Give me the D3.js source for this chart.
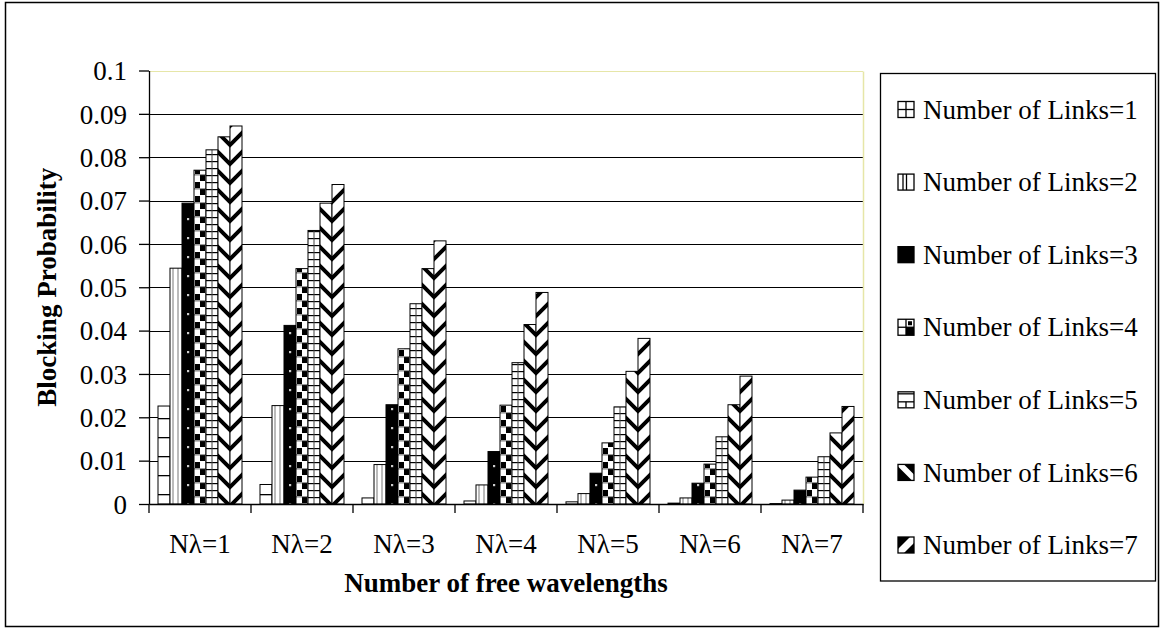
<!DOCTYPE html>
<html>
<head>
<meta charset="utf-8">
<script src="https://cdn.jsdelivr.net/npm/d3@7"></script>
<style>
  html, body { margin: 0; padding: 0; background: #fff; }
  svg { display: block; }
  text { font-family: "Liberation Serif", "Times New Roman", serif; fill: #000; }
</style>
</head>
<body>
<svg id="chart" width="1164" height="628"></svg>
<script>
// Categories along the x axis
const categories = ["Nλ=1", "Nλ=2", "Nλ=3", "Nλ=4", "Nλ=5", "Nλ=6", "Nλ=7"];

// Series names (legend entries)
const seriesNames = [
  "Number of Links=1", "Number of Links=2", "Number of Links=3",
  "Number of Links=4", "Number of Links=5", "Number of Links=6",
  "Number of Links=7"
];

// Blocking probability per series, one value per category
const links1 = [0.0226, 0.0045, 0.0014, 0.0007, 0.0005, 0.0002, 0.0001];
const links2 = [0.0544, 0.0227, 0.0091, 0.0044, 0.0024, 0.0014, 0.0009];
const links3 = [0.0694, 0.0412, 0.0229, 0.0121, 0.0071, 0.0048, 0.0032];
const links4 = [0.0770, 0.0543, 0.0358, 0.0228, 0.0141, 0.0092, 0.0062];
const links5 = [0.0817, 0.0631, 0.0462, 0.0326, 0.0224, 0.0155, 0.0109];
const links6 = [0.0847, 0.0694, 0.0543, 0.0414, 0.0306, 0.0229, 0.0164];
const links7 = [0.0872, 0.0737, 0.0607, 0.0488, 0.0382, 0.0295, 0.0225];

// Y axis ticks and their labels
const yTicks = [0, 0.01, 0.02, 0.03, 0.04, 0.05, 0.06, 0.07, 0.08, 0.09, 0.1];
const yTickLabels = ["0", "0.01", "0.02", "0.03", "0.04", "0.05", "0.06", "0.07", "0.08", "0.09", "0.1"];

const seriesValues = [links1, links2, links3, links4, links5, links6, links7];

const svg = d3.select("#chart");
const defs = svg.append("defs");

// ---- fill patterns, one per series ----
function pattern(id, w, h, yOff) {
  return defs.append("pattern")
    .attr("id", id)
    .attr("patternUnits", "userSpaceOnUse")
    .attr("x", 0).attr("y", yOff || 0)
    .attr("width", w).attr("height", h);
}
// 1: white with horizontal rules
let p = pattern("pat0", 12, 19);
p.append("rect").attr("width", 12).attr("height", 19).attr("fill", "#fff");
p.append("rect").attr("y", 0).attr("width", 12).attr("height", 1.3).attr("fill", "#000");
// 2: white with thin vertical rules
p = pattern("pat1", 12, 10);
p.append("rect").attr("width", 12).attr("height", 10).attr("fill", "#fff");
p.append("rect").attr("x", 2.5).attr("width", 1).attr("height", 10).attr("fill", "#777");
p.append("rect").attr("x", 7.5).attr("width", 1).attr("height", 10).attr("fill", "#777");
// 3: black with small light dots
p = pattern("pat2", 12, 19);
p.append("rect").attr("width", 12).attr("height", 19).attr("fill", "#000");
p.append("rect").attr("x", 5).attr("y", 9).attr("width", 2.2).attr("height", 2.2).attr("fill", "#ccc");
// 4: checker blocks
p = pattern("pat3", 12, 14);
p.append("rect").attr("width", 12).attr("height", 14).attr("fill", "#fff");
p.append("rect").attr("x", 1).attr("y", 0).attr("width", 5).attr("height", 6).attr("fill", "#000");
p.append("rect").attr("x", 6).attr("y", 7).attr("width", 5).attr("height", 6).attr("fill", "#000");
p.append("rect").attr("x", 0).attr("y", 6.5).attr("width", 12).attr("height", 0.8).attr("fill", "#333");
// 5: small brick grid
p = pattern("pat4", 12, 7);
p.append("rect").attr("width", 12).attr("height", 7).attr("fill", "#fff");
p.append("rect").attr("y", 0).attr("width", 12).attr("height", 1.2).attr("fill", "#000");
p.append("rect").attr("x", 5.5).attr("width", 1).attr("height", 7).attr("fill", "#444");
// 6: thick "\" diagonal stripes
p = pattern("pat5", 19, 19);
p.append("rect").attr("width", 19).attr("height", 19).attr("fill", "#fff");
p.append("path").attr("d", "M-5,-5L24,24M-5,14L5,24M14,-5L24,5")
  .attr("stroke", "#000").attr("stroke-width", 4).attr("fill", "none");
// 7: thick "/" diagonal stripes, phased so neighbouring bars form chevrons
p = pattern("pat6", 19, 19, 12);
p.append("rect").attr("width", 19).attr("height", 19).attr("fill", "#fff");
p.append("path").attr("d", "M-5,24L24,-5M-5,5L5,-5M14,24L24,14")
  .attr("stroke", "#000").attr("stroke-width", 4).attr("fill", "none");

// ---- scales ----
const plotLeft = 149, plotRight = 863, plotTop = 70.5, plotBottom = 504;
const x0 = d3.scaleBand().domain(categories).range([plotLeft, plotRight]).padding(0);
const x1 = d3.scaleBand().domain(seriesNames).range([0, x0.bandwidth()])
  .paddingInner(0).paddingOuter(0.75);
const y = d3.scaleLinear().domain([0, 0.1]).range([plotBottom, plotTop]);

// outer frame
svg.append("rect")
  .attr("x", 5.5).attr("y", 2.5).attr("width", 1153).attr("height", 624)
  .attr("fill", "#fff").attr("stroke", "#000").attr("stroke-width", 1.5);

// gridlines
svg.append("g").selectAll("line")
  .data(yTicks.filter(d => d > 0))
  .join("line")
  .attr("x1", plotLeft).attr("x2", plotRight)
  .attr("y1", d => Math.round(y(d)) + 0.5).attr("y2", d => Math.round(y(d)) + 0.5)
  .attr("stroke", d => d >= 0.1 ? "#e6e6a8" : "#000")
  .attr("stroke-width", 1);
// right edge of plot area
svg.append("line")
  .attr("x1", plotRight + 0.5).attr("x2", plotRight + 0.5)
  .attr("y1", Math.round(y(0.1)) + 0.5).attr("y2", plotBottom)
  .attr("stroke", "#e6e6a8").attr("stroke-width", 1.5);

// bars
const groups = svg.append("g").selectAll("g")
  .data(categories)
  .join("g")
  .attr("transform", d => `translate(${x0(d)},0)`);

groups.selectAll("rect")
  .data((c, ci) => seriesNames.map((s, si) => ({ s, si, v: seriesValues[si][ci] })))
  .join("rect")
  .attr("transform", d => `translate(${x1(d.s)},0)`)
  .attr("x", 0)
  .attr("y", d => y(d.v))
  .attr("width", x1.bandwidth())
  .attr("height", d => y(0) - y(d.v))
  .attr("fill", d => `url(#pat${d.si})`)
  .attr("stroke", "#000")
  .attr("stroke-width", 1);

// y axis
const yAxis = svg.append("g")
  .attr("transform", `translate(${plotLeft},0)`)
  .call(d3.axisLeft(y).tickValues(yTicks)
    .tickFormat((d, i) => yTickLabels[i])
    .tickSize(10).tickSizeOuter(0).tickPadding(12));
yAxis.select(".domain").attr("stroke", "#000").attr("stroke-width", 1.3);
yAxis.selectAll(".tick line").attr("stroke", "#000").attr("stroke-width", 1.3);
yAxis.selectAll(".tick text")
  .attr("font-family", "Liberation Serif")
  .attr("font-size", 27)
  .attr("dy", "0.34em");

// x axis: category labels plus boundary ticks
const xAxis = svg.append("g")
  .attr("transform", `translate(0,${plotBottom})`)
  .call(d3.axisBottom(x0).tickSize(0).tickSizeOuter(0).tickPadding(0));
xAxis.select(".domain").attr("stroke", "#000").attr("stroke-width", 1.3);
xAxis.selectAll(".tick text")
  .attr("font-family", "Liberation Serif")
  .attr("font-size", 27)
  .attr("y", 49).attr("dy", 0);
svg.append("g").selectAll("line")
  .data(categories.map(c => x0(c)).concat([plotRight]))
  .join("line")
  .attr("x1", d => d).attr("x2", d => d)
  .attr("y1", plotBottom).attr("y2", plotBottom + 9)
  .attr("stroke", "#000").attr("stroke-width", 1.3);

// axis titles, centred on the plot area
svg.append("text")
  .attr("x", (plotLeft + plotRight) / 2).attr("y", 592)
  .attr("text-anchor", "middle")
  .attr("font-size", 27).attr("font-weight", "bold")
  .text("Number of free wavelengths");
svg.append("text")
  .attr("transform", `translate(56,${(plotTop + plotBottom) / 2}) rotate(-90)`)
  .attr("text-anchor", "middle")
  .attr("font-size", 27).attr("font-weight", "bold")
  .text("Blocking Probability");

// legend
const legendTop = 73.5, legendBottom = 581;
svg.append("rect")
  .attr("x", 880.5).attr("y", legendTop)
  .attr("width", 275).attr("height", legendBottom - legendTop)
  .attr("fill", "#fff").attr("stroke", "#000").attr("stroke-width", 1.3);

// small swatch glyphs for each legend entry (16x16 local box)
const K = "#000";
const swatchParts = [
  [["line", 8, 0, 8, 16], ["line", 0, 8, 16, 8]],
  [["line", 5, 0, 5, 16], ["line", 8.5, 0, 8.5, 16]],
  [["rect", 0, 0, 16, 16]],
  [["rect", 8, 8, 8, 8], ["rect", 10, 2, 4, 4], ["line", 0, 8, 16, 8], ["line", 8, 0, 8, 16]],
  [["line", 0, 10, 16, 10], ["line", 8, 10, 8, 16], ["line", 0, 2, 16, 2]],
  [["poly", "0,2 0,16 14,16"], ["poly", "6,0 16,0 16,10"]],
  [["poly", "0,0 12,0 0,12"], ["poly", "16,6 16,16 6,16"]]
];

const legendY = d3.scalePoint().domain(seriesNames).range([109.5, 545]);
const items = svg.append("g").selectAll("g")
  .data(seriesNames)
  .join("g")
  .attr("transform", d => `translate(898,${legendY(d) - 8})`);
items.each(function (d, i) {
  const g = d3.select(this);
  g.append("rect").attr("width", 16).attr("height", 16).attr("fill", "#fff");
  swatchParts[i].forEach(part => {
    if (part[0] === "line") {
      g.append("line").attr("x1", part[1]).attr("y1", part[2])
        .attr("x2", part[3]).attr("y2", part[4])
        .attr("stroke", K).attr("stroke-width", 1.3);
    } else if (part[0] === "rect") {
      g.append("rect").attr("x", part[1]).attr("y", part[2])
        .attr("width", part[3]).attr("height", part[4]).attr("fill", K);
    } else {
      g.append("polygon").attr("points", part[1]).attr("fill", K);
    }
  });
  g.append("rect").attr("width", 16).attr("height", 16)
    .attr("fill", "none").attr("stroke", K).attr("stroke-width", 1.3);
});
items.append("text")
  .attr("x", 25).attr("y", 8).attr("dy", "0.34em")
  .attr("font-size", 27)
  .text(d => d);
</script>
</body>
</html>
